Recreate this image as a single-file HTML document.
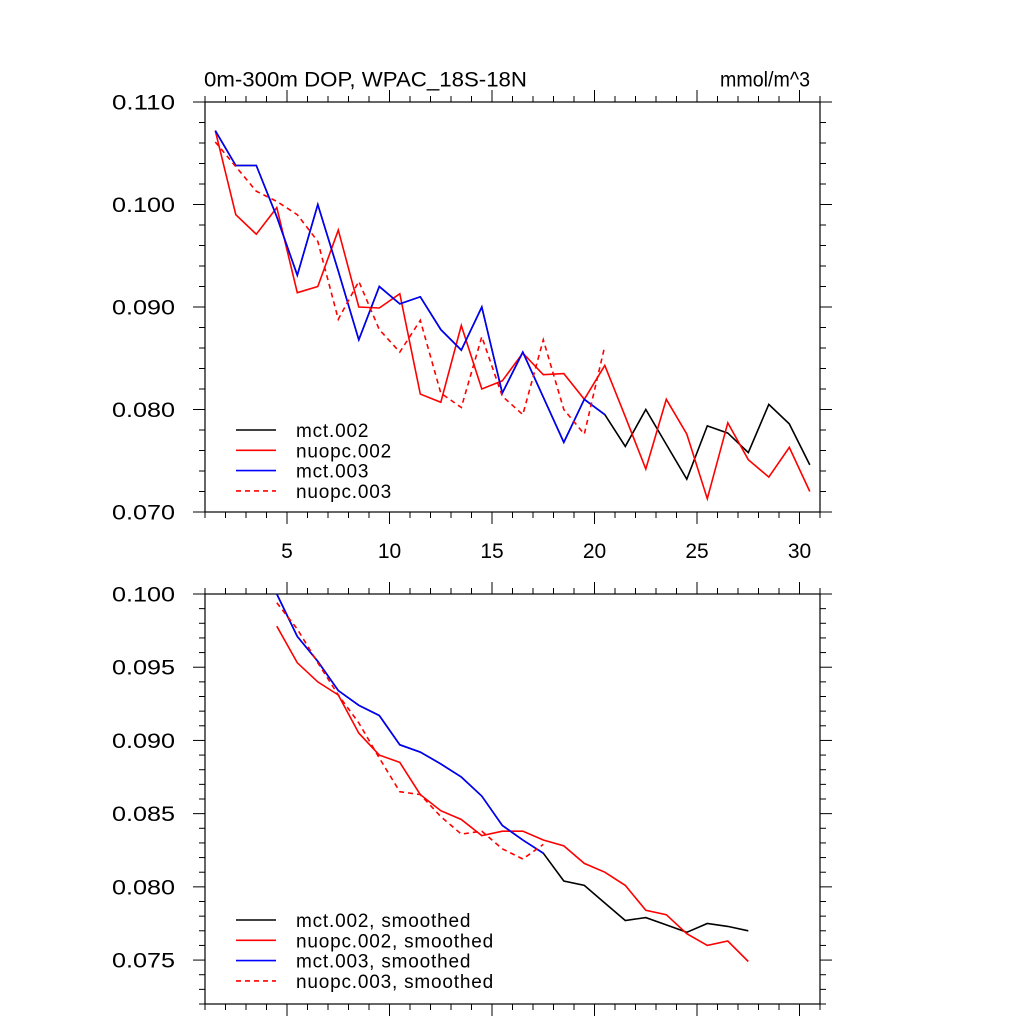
<!DOCTYPE html>
<html><head><meta charset="utf-8"><style>
html,body{margin:0;padding:0;background:#fff;}
svg text{font-family:"Liberation Sans",sans-serif;fill:#000;}
</style></head><body>
<svg id="chart" width="1024" height="1024" viewBox="0 0 1024 1024" xmlns="http://www.w3.org/2000/svg">
<rect width="1024" height="1024" fill="#fff"/>
<text x="204" y="86.5" font-size="21" textLength="323" lengthAdjust="spacingAndGlyphs">0m-300m DOP, WPAC_18S-18N</text>
<text x="720" y="86.5" font-size="21" textLength="90" lengthAdjust="spacingAndGlyphs">mmol/m^3</text>
<g id="top"></g>
<g id="bot"></g>
</svg>
<script>
const years = [1.5,2.5,3.5,4.5,5.5,6.5,7.5,8.5,9.5,10.5,11.5,12.5,13.5,14.5,15.5,16.5,17.5,18.5,19.5,20.5,21.5,22.5,23.5,24.5,25.5,26.5,27.5,28.5,29.5,30.5];
const mct002 = [0.1072,0.1038,0.1038,0.0988,0.0931,0.1000,0.0935,0.0868,0.0920,0.0903,0.0910,0.0878,0.0858,0.0900,0.0816,0.0856,0.0812,0.0768,0.0810,0.0795,0.0764,0.0800,0.0766,0.0732,0.0784,0.0777,0.0758,0.0805,0.0786,0.0746];
const nuopc002 = [0.1072,0.0990,0.0971,0.0997,0.0914,0.0920,0.0975,0.0900,0.0899,0.0913,0.0815,0.0807,0.0882,0.0820,0.0828,0.0855,0.0834,0.0835,0.0810,0.0843,0.0793,0.0742,0.0810,0.0776,0.0713,0.0787,0.0751,0.0734,0.0763,0.0720];
const mct003 = [0.1072,0.1038,0.1038,0.0988,0.0931,0.1000,0.0935,0.0868,0.0920,0.0903,0.0910,0.0878,0.0858,0.0900,0.0816,0.0856,0.0812,0.0768,0.0810,0.0795];
const nuopc003 = [0.1061,0.1037,0.1013,0.1003,0.0990,0.0964,0.0888,0.0925,0.0878,0.0856,0.0887,0.0816,0.0802,0.0871,0.0813,0.0795,0.0868,0.0800,0.0776,0.0862];
const smYears = [4.5,5.5,6.5,7.5,8.5,9.5,10.5,11.5,12.5,13.5,14.5,15.5,16.5,17.5,18.5,19.5,20.5,21.5,22.5,23.5,24.5,25.5,26.5,27.5];
const mct002s = [0.1000,0.0971,0.0954,0.0934,0.0924,0.0917,0.0897,0.0892,0.0884,0.0875,0.0862,0.0842,0.0832,0.0823,0.0804,0.0801,0.0789,0.0777,0.0779,0.0774,0.0769,0.0775,0.0773,0.0770];
const nuopc002s = [0.0978,0.0953,0.0940,0.0931,0.0905,0.0890,0.0885,0.0863,0.0852,0.0846,0.0835,0.0838,0.0838,0.0832,0.0828,0.0816,0.0810,0.0801,0.0784,0.0781,0.0768,0.0760,0.0763,0.0749];
const mct003s = [0.1000,0.0971,0.0954,0.0934,0.0924,0.0917,0.0897,0.0892,0.0884,0.0875,0.0862,0.0842,0.0832,0.0823];
const nuopc003s = [0.0994,0.0976,0.0953,0.0931,0.0912,0.0888,0.0865,0.0863,0.0848,0.0836,0.0838,0.0826,0.0819,0.0829];
const xTicks = [5,10,15,20,25,30];
const topYTicks = [0.070,0.080,0.090,0.100,0.110];
const botYTicks = [0.075,0.080,0.085,0.090,0.095,0.100];

const NS="http://www.w3.org/2000/svg";
function mk(parent,tag,attrs){const e=document.createElementNS(NS,tag);for(const k in attrs)e.setAttribute(k,attrs[k]);parent.appendChild(e);return e;}
const L=205,R=820,X0=1,X1=31;
const sx=v=>L+(v-X0)/(X1-X0)*(R-L);

function panel(g,top,bot,y0,y1,yTicks,yMinorStep,yFmtDigits,showX,series,legendY){
  const sy=v=>bot-(v-y0)/(y1-y0)*(bot-top);
  for(let x=1;x<=31;x++){
    const major=x%5===0, len=major?12:6;
    const t1=mk(g,'line',{x1:sx(x),x2:sx(x),y1:top,y2:top-len,stroke:'#000','stroke-width':1});
    
    
    const t2=mk(g,'line',{x1:sx(x),x2:sx(x),y1:bot,y2:bot+len,stroke:'#000','stroke-width':1});
    
    
  }
  const n=Math.round((y1-y0)/yMinorStep);
  for(let i=0;i<=n;i++){
    const v=y0+i*yMinorStep;
    const major=yTicks.some(t=>Math.abs(t-v)<1e-7), len=major?12:6;
    const t1=mk(g,'line',{x1:L,x2:L-len,y1:sy(v),y2:sy(v),stroke:'#000','stroke-width':1});
    
    
    const t2=mk(g,'line',{x1:R,x2:R+len,y1:sy(v),y2:sy(v),stroke:'#000','stroke-width':1});
    
    
  }
  yTicks.forEach(v=>{
    const t=mk(g,'text',{x:112,y:sy(v)+7.5,'font-size':21,textLength:63,lengthAdjust:'spacingAndGlyphs'});
    t.textContent=v.toFixed(yFmtDigits);
    
    
  });
  if(showX){
    xTicks.forEach(v=>{
      const t=mk(g,'text',{x:sx(v),y:bot+46,'font-size':21,'text-anchor':'middle'});
      t.textContent=String(v);
      
      
    });
  }
  const fr=mk(g,'rect',{x:L,y:top,width:R-L,height:bot-top,fill:'none',stroke:'#000','stroke-width':1.2});
  
  
  series.forEach(s=>{
    const pts=s.y.map((v,i)=>sx(s.x[i]).toFixed(1)+','+sy(v).toFixed(1)).join(' ');
    const p=mk(g,'polyline',{points:pts,fill:'none',stroke:s.c,'stroke-width':1.6,'stroke-dasharray':s.d?'5,4':'none'});
    
    
  });
  series.forEach((s,i)=>{
    const yy=legendY+i*20.3;
    const l=mk(g,'line',{x1:236,x2:276,y1:yy,y2:yy,stroke:s.c,'stroke-width':1.6,'stroke-dasharray':s.d?'5,4':'none'});
    
    
    const t=mk(g,'text',{x:296,y:yy+7,'font-size':19,'letter-spacing':0.8});
    t.textContent=s.label;
    
    
  });
}
panel(document.getElementById('top'),102,512,0.070,0.110,topYTicks,0.002,3,true,[
  {x:years,y:mct002,c:'#000',name:'line-mct002',label:'mct.002'},
  {x:years,y:nuopc002,c:'#f00',name:'line-nuopc002',label:'nuopc.002'},
  {x:years,y:mct003,c:'#00f',name:'line-mct003',label:'mct.003'},
  {x:years,y:nuopc003,c:'#f00',d:true,name:'line-nuopc003',label:'nuopc.003'}
],430);
panel(document.getElementById('bot'),594,1004,0.072,0.100,botYTicks,0.001,3,false,[
  {x:smYears,y:mct002s,c:'#000',name:'line-mct002-smoothed',label:'mct.002, smoothed'},
  {x:smYears,y:nuopc002s,c:'#f00',name:'line-nuopc002-smoothed',label:'nuopc.002, smoothed'},
  {x:smYears,y:mct003s,c:'#00f',name:'line-mct003-smoothed',label:'mct.003, smoothed'},
  {x:smYears,y:nuopc003s,c:'#f00',d:true,name:'line-nuopc003-smoothed',label:'nuopc.003, smoothed'}
],920);
</script>
</body></html>
